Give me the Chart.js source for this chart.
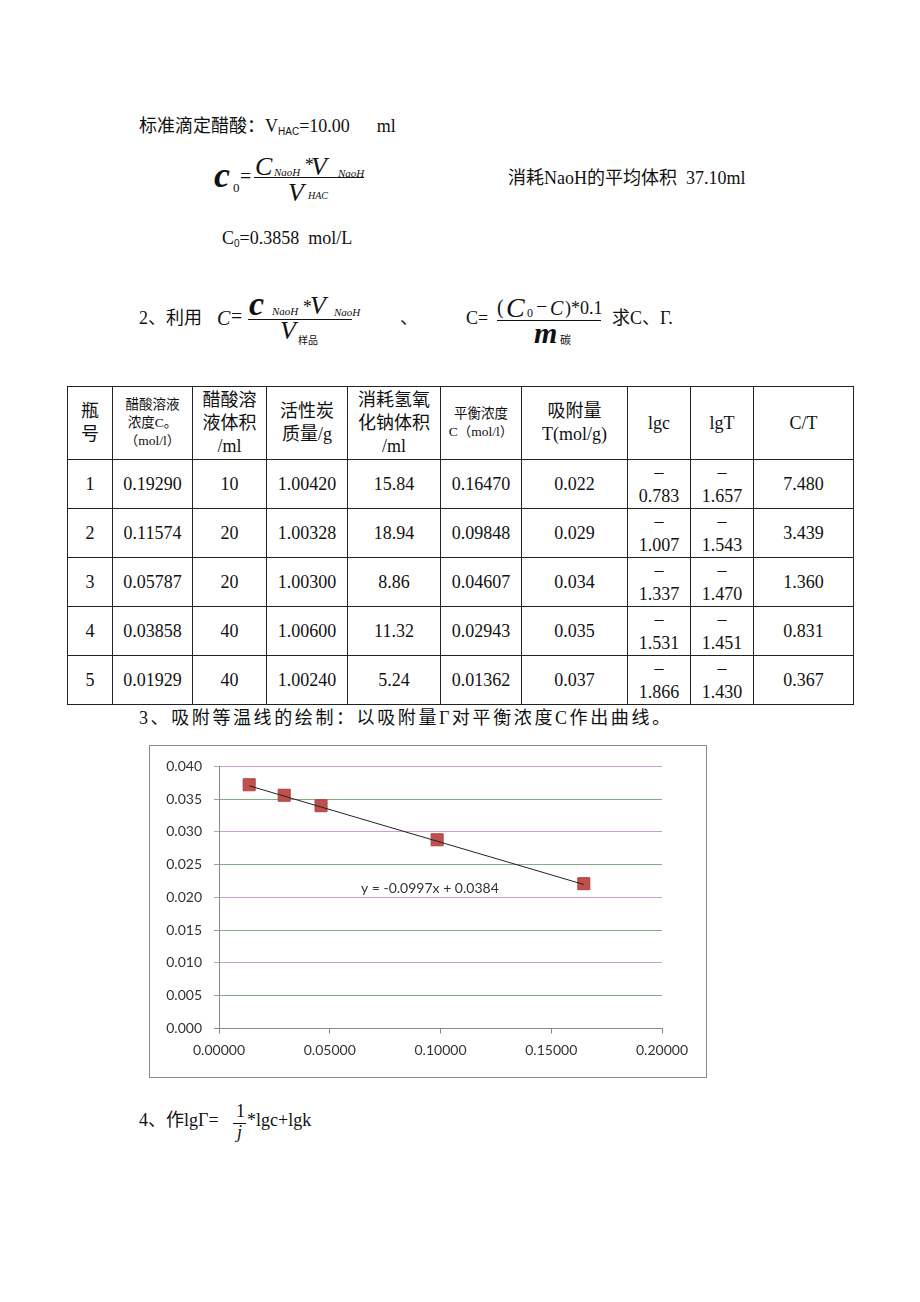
<!DOCTYPE html>
<html>
<head>
<meta charset="utf-8">
<script src="https://cdn.jsdelivr.net/npm/chart.js@4.4.1/dist/chart.umd.min.js"></script>
<style>
html, body { margin: 0; padding: 0; background: #fff; }
body { width: 920px; height: 1302px; position: relative; overflow: hidden; font-family: "Liberation Serif", "Noto Sans CJK SC", serif; font-size: 18px; color: #111; }
.a { position: absolute; white-space: nowrap; line-height: 24px; }
.m { position: absolute; white-space: nowrap; line-height: 0.8; font-family: "Liberation Serif", serif; font-style: italic; color: #111; }
.up { font-style: normal; }
.b { font-weight: bold; }
.bar { position: absolute; height: 1px; background: #111; }
.sub { font-family: "Liberation Sans", sans-serif; font-size: 10px; vertical-align: -3px; }
#tbl { position: absolute; left: 67px; top: 386px; border-collapse: collapse; table-layout: fixed; width: 787px; }
#tbl td { border: 1px solid #222; text-align: center; vertical-align: middle; padding: 0; line-height: 23px; overflow: hidden; }
#tbl tr.h td { height: 72px; }
#tbl tr.r td { height: 48px; }
#tbl td.sm { font-size: 13.5px; line-height: 18px; }
#tbl td.two { line-height: 24px; }
#box { position: absolute; left: 149px; top: 745px; width: 558px; height: 333px; border: 1px solid #8a8a8a; box-sizing: border-box; }
#wrap { position: relative; width: 556px; height: 331px; }
</style>
</head>
<body>

<div class="a" style="left:139px;top:114px">标准滴定醋酸：V<span class="sub">HAC</span>=10.00&nbsp;&nbsp;&nbsp;&nbsp;&nbsp;&nbsp;ml</div>

<!-- c0 = C_NaoH * V_NaoH / V_HAC -->
<span class="m b" style="left:214px;top:161px;font-size:36px">c</span>
<span class="m up" style="left:233px;top:183px;font-size:13px">0</span>
<span class="m up" style="left:240px;top:168px;font-size:20px">=</span>
<div class="bar" style="left:254px;top:177px;width:110px"></div>
<span class="m" style="left:255px;top:157px;font-size:26px">C</span>
<span class="m" style="left:274px;top:168px;font-size:11px">NaoH</span>
<span class="m" style="left:304px;top:158px;font-size:18px">*</span>
<span class="m" style="left:311px;top:157px;font-size:26px">V</span>
<span class="m" style="left:338px;top:169px;font-size:11px">NaoH</span>
<span class="m" style="left:288px;top:183px;font-size:26px">V</span>
<span class="m" style="left:308px;top:192px;font-size:10px">HAC</span>

<div class="a" style="left:508px;top:166px">消耗NaoH的平均体积&nbsp;&nbsp;37.10ml</div>
<div class="a" style="left:222px;top:226px">C<span class="sub">0</span>=0.3858&nbsp;&nbsp;mol/L</div>

<!-- line 2 -->
<div class="a" style="left:139px;top:306px">2、利用</div>
<span class="m" style="left:217px;top:310px;font-size:20px">C</span>
<span class="m up" style="left:231px;top:308px;font-size:20px">=</span>
<div class="bar" style="left:248px;top:319px;width:104px"></div>
<span class="m b" style="left:249px;top:290px;font-size:34px">c</span>
<span class="m" style="left:272px;top:307px;font-size:11px">NaoH</span>
<span class="m" style="left:302px;top:300px;font-size:18px">*</span>
<span class="m" style="left:310px;top:296px;font-size:26px">V</span>
<span class="m" style="left:334px;top:308px;font-size:11px">NaoH</span>
<span class="m" style="left:280px;top:321px;font-size:26px">V</span>
<span class="a" style="left:298px;top:331px;font-size:10px;line-height:20px">样品</span>
<div class="a" style="left:400px;top:306px">、</div>
<div class="a" style="left:466px;top:306px">C=</div>
<div class="bar" style="left:497px;top:320px;width:104px"></div>
<span class="m up" style="left:497px;top:299px;font-size:20px">(</span>
<span class="m" style="left:506px;top:297px;font-size:28px">C</span>
<span class="m up" style="left:527px;top:309px;font-size:12px">0</span>
<span class="m up" style="left:536px;top:298px;font-size:20px">−</span>
<span class="m" style="left:550px;top:300px;font-size:20px">C</span>
<span class="m up" style="left:565px;top:301px;font-size:18px">)*0.1</span>
<span class="m b" style="left:534px;top:321px;font-size:30px">m</span>
<span class="a" style="left:560px;top:330px;font-size:11px;line-height:20px">碳</span>
<div class="a" style="left:612px;top:306px">求C、Γ.</div>

<table id="tbl"><tbody id="tbody"></tbody></table>

<div class="a" style="left:139px;top:706px;letter-spacing:2.6px">3、吸附等温线的绘制：以吸附量Γ对平衡浓度C作出曲线。</div>

<div id="box"><div id="wrap"><canvas id="isotherm"></canvas></div></div>

<!-- line 4 -->
<div class="a" style="left:139px;top:1108px">4、作lgΓ=</div>
<span class="m up" style="left:236px;top:1104px;font-size:18px">1</span>
<div class="bar" style="left:233px;top:1123px;width:13px"></div>
<span class="m" style="left:237px;top:1125px;font-size:18px">j</span>
<div class="a" style="left:247px;top:1108px">*lgc+lgk</div>

<script>
// table values
const bottles = ['1', '2', '3', '4', '5'];
const c0Acid = ['0.19290', '0.11574', '0.05787', '0.03858', '0.01929'];
const volAcid = ['10', '20', '20', '40', '40'];
const massCarbon = ['1.00420', '1.00328', '1.00300', '1.00600', '1.00240'];
const volNaOH = ['15.84', '18.94', '8.86', '11.32', '5.24'];
const cEqText = ['0.16470', '0.09848', '0.04607', '0.02943', '0.01362'];
const gammaText = ['0.022', '0.029', '0.034', '0.035', '0.037'];
const lgc = ['0.783', '1.007', '1.337', '1.531', '1.866'];
const lgT = ['1.657', '1.543', '1.470', '1.451', '1.430'];
const cOverT = ['7.480', '3.439', '1.360', '0.831', '0.367'];

// chart values
const cEq = [0.01362, 0.02943, 0.04607, 0.09848, 0.16470];
const gamma = [0.0372, 0.0356, 0.0340, 0.0288, 0.0221];
const fitSlope = -0.0997;
const fitIntercept = 0.0384;
const fitLabel = 'y = -0.0997x + 0.0384';
const fitLabelAt = [0.0952, 0.0213];
const xMin = 0, xMax = 0.2, xStep = 0.05;
const yMin = 0, yMax = 0.04, yStep = 0.005;

// build the table
var colW = [44, 79, 73, 80, 92, 80, 105, 62, 62, 99];
var head = [
  ['瓶<br>号', ''],
  ['醋酸溶液<br>浓度C。<br>（mol/l）', 'sm'],
  ['醋酸溶<br>液体积<br>/ml', ''],
  ['活性炭<br>质量/g', ''],
  ['消耗氢氧<br>化钠体积<br>/ml', ''],
  ['平衡浓度<br>C（mol/l）', 'sm'],
  ['吸附量<br>T(mol/g)', ''],
  ['lgc', ''],
  ['lgT', ''],
  ['C/T', '']
];
var html = '<tr class="h">';
head.forEach(function(h, i) {
  html += '<td class="' + h[1] + '" style="width:' + colW[i] + 'px">' + h[0] + '</td>';
});
html += '</tr>';
for (var i = 0; i < bottles.length; i++) {
  html += '<tr class="r">' +
    '<td>' + bottles[i] + '</td>' +
    '<td>' + c0Acid[i] + '</td>' +
    '<td>' + volAcid[i] + '</td>' +
    '<td>' + massCarbon[i] + '</td>' +
    '<td>' + volNaOH[i] + '</td>' +
    '<td>' + cEqText[i] + '</td>' +
    '<td>' + gammaText[i] + '</td>' +
    '<td class="two">–<br>' + lgc[i] + '</td>' +
    '<td class="two">–<br>' + lgT[i] + '</td>' +
    '<td>' + cOverT[i] + '</td>' +
    '</tr>';
}
document.getElementById('tbody').innerHTML = html;

// equation text next to the trendline
const eqLabel = {
  id: 'eqLabel',
  afterDatasetsDraw: function(chart) {
    var ctx = chart.ctx, x = chart.scales.x, y = chart.scales.y;
    ctx.save();
    ctx.font = '14px Lato';
    ctx.fillStyle = '#333';
    ctx.textAlign = 'center';
    ctx.textBaseline = 'middle';
    ctx.fillText(fitLabel, x.getPixelForValue(fitLabelAt[0]), y.getPixelForValue(fitLabelAt[1]));
    ctx.restore();
  }
};

var fitX = [Math.min.apply(null, cEq), Math.max.apply(null, cEq)];
var tickFont = { family: 'Lato', size: 14 };

new Chart(document.getElementById('isotherm'), {
  type: 'scatter',
  data: {
    datasets: [{
      type: 'line',
      data: fitX.map(function(x) { return { x: x, y: fitSlope * x + fitIntercept }; }),
      borderColor: '#222',
      borderWidth: 1,
      pointRadius: 0,
      fill: false,
      order: 0
    }, {
      data: cEq.map(function(x, i) { return { x: x, y: gamma[i] }; }),
      pointStyle: 'rect',
      pointRadius: 8.5,
      backgroundColor: '#c0504d',
      borderColor: '#b0403d',
      borderWidth: 1,
      order: 1
    }]
  },
  options: {
    responsive: true,
    maintainAspectRatio: false,
    animation: false,
    layout: { padding: { top: 17, right: 44, left: 0, bottom: 0 } },
    plugins: { legend: { display: false }, tooltip: { enabled: false } },
    scales: {
      x: {
        type: 'linear', min: xMin, max: xMax,
        ticks: { stepSize: xStep, padding: 9, color: '#333', font: tickFont,
          callback: function(v) { return v.toFixed(5); } },
        grid: { drawOnChartArea: false, tickLength: 5, color: '#8a8a8a' },
        border: { color: '#8a8a8a' },
        afterFit: function(s) { s.height = 48.5; }
      },
      y: {
        min: yMin, max: yMax,
        ticks: { stepSize: yStep, padding: 12, color: '#333', font: tickFont,
          callback: function(v) { return v.toFixed(3); } },
        grid: {
          tickLength: 5,
          color: function(c) {
            var k = Math.round(c.tick.value / yStep);
            if (k === 0) return '#8a8a8a';
            return k % 2 ? '#88aa88' : '#c8a0cc';
          }
        },
        border: { color: '#8a8a8a' },
        afterFit: function(s) { s.width = 69; }
      }
    }
  },
  plugins: [eqLabel]
});
</script>
</body>
</html>
